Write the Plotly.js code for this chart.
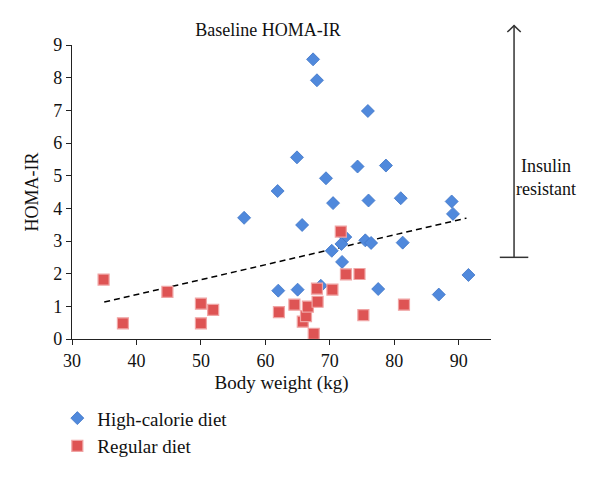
<!DOCTYPE html>
<html>
<head>
<meta charset="utf-8">
<script src="https://cdn.plot.ly/plotly-3.0.1.min.js"></script>
<style>html,body{margin:0;padding:0;background:#fff;}#chart{width:600px;height:477px;}</style>
</head>
<body>
<div id="chart"></div>
<script>
const highX = [67.4, 68.0, 75.9, 64.9, 78.7, 74.3, 69.4, 61.9, 88.9, 81.0, 76.0, 70.5, 89.1, 56.7, 65.7, 72.4, 71.8, 75.5, 76.4, 81.3, 70.3, 71.9, 91.5, 77.5, 86.9, 65.0, 62.0, 68.6];
const highY = [8.56, 7.92, 6.98, 5.56, 5.31, 5.28, 4.92, 4.53, 4.21, 4.31, 4.24, 4.16, 3.83, 3.71, 3.49, 3.12, 2.91, 3.02, 2.94, 2.95, 2.70, 2.36, 1.96, 1.53, 1.36, 1.51, 1.48, 1.63];
const regX = [34.9, 37.9, 44.8, 50.0, 51.9, 50.0, 62.1, 64.5, 65.8, 66.3, 66.6, 67.5, 68.1, 68.0, 70.4, 71.7, 72.5, 74.6, 75.2, 81.5];
const regY = [1.82, 0.48, 1.44, 1.08, 0.89, 0.48, 0.82, 1.05, 0.53, 0.70, 0.99, 0.16, 1.14, 1.54, 1.51, 3.29, 1.98, 1.99, 0.73, 1.05];
const trendX = [35.0, 91.2];
const trendY = [1.13, 3.70];
const xTicks = [30, 40, 50, 60, 70, 80, 90];
const yTicks = [0, 1, 2, 3, 4, 5, 6, 7, 8, 9];
const threshold = 2.5;

const serif = "Liberation Serif, Times New Roman, serif";

const traces = [
  {x: trendX, y: trendY, mode: 'lines', line: {color: '#000', width: 1.5, dash: '6px,4px'}, showlegend: false, hoverinfo: 'skip'},
  {x: highX, y: highY, mode: 'markers', name: 'High-calorie diet',
   marker: {symbol: 'diamond', size: 10, color: '#5089dc', line: {color: '#3f75c6', width: 0.8}}},
  {x: regX, y: regY, mode: 'markers', name: 'Regular diet',
   marker: {symbol: 'square', size: 11, color: '#de5454', line: {color: '#f0a4a4', width: 1.2}}}
];

const ax0 = 1.055;
const yThr = threshold / 9;
const yTop = 1.066;

const layout = {
  width: 600, height: 477,
  margin: {l: 72, r: 109, t: 44.5, b: 135.5},
  paper_bgcolor: '#fff', plot_bgcolor: '#fff',
  font: {family: serif, size: 18, color: '#111'},
  title: {text: 'Baseline HOMA-IR', font: {family: serif, size: 18, color: '#111'}, xref: 'paper', x: 0.468, xanchor: 'center', yref: 'container', y: 1 - 30/477, yanchor: 'middle'},
  xaxis: {range: [30, 95], tickvals: xTicks, ticktext: xTicks.map(String), showgrid: false, zeroline: false,
          showline: true, linecolor: '#222', linewidth: 1.2, ticks: 'outside', ticklen: 5, tickcolor: '#222',
          tickfont: {family: serif, size: 18, color: '#111'},
          title: {text: 'Body weight (kg)', font: {family: serif, size: 19, color: '#111'}, standoff: 6}},
  yaxis: {range: [0, 9], tickvals: yTicks, ticktext: yTicks.map(String), showgrid: false, zeroline: false,
          showline: true, linecolor: '#222', linewidth: 1.2, ticks: 'outside', ticklen: 5, tickcolor: '#222',
          tickfont: {family: serif, size: 18, color: '#111'},
          title: {text: 'HOMA-IR', font: {family: serif, size: 18, color: '#111'}, standoff: 10}},
  legend: {x: -0.035, xanchor: 'left', y: -0.205, yanchor: 'top', font: {family: serif, size: 19, color: '#111'}, bgcolor: 'rgba(0,0,0,0)', tracegroupgap: 2, itemwidth: 30},
  shapes: [
    {type: 'line', xref: 'paper', yref: 'paper', x0: ax0, x1: ax0, y0: yThr, y1: yTop, line: {color: '#333', width: 1.5}},
    {type: 'line', xref: 'paper', yref: 'paper', x0: ax0 - 0.034, x1: ax0 + 0.034, y0: yThr, y1: yThr, line: {color: '#333', width: 1.5}},
    {type: 'path', xref: 'paper', yref: 'paper', path: `M ${ax0 - 0.016},${yTop - 0.022} L ${ax0},${yTop} L ${ax0 + 0.016},${yTop - 0.022}`, line: {color: '#333', width: 1.5}}
  ],
  annotations: [
    {xref: 'paper', yref: 'paper', x: 1.132, y: 0.55, text: 'Insulin<br>resistant', showarrow: false, align: 'center', xanchor: 'center', yanchor: 'middle', font: {family: serif, size: 18, color: '#111'}}
  ]
};

Plotly.newPlot('chart', traces, layout, {displayModeBar: false, staticPlot: true});
</script>
</body>
</html>
